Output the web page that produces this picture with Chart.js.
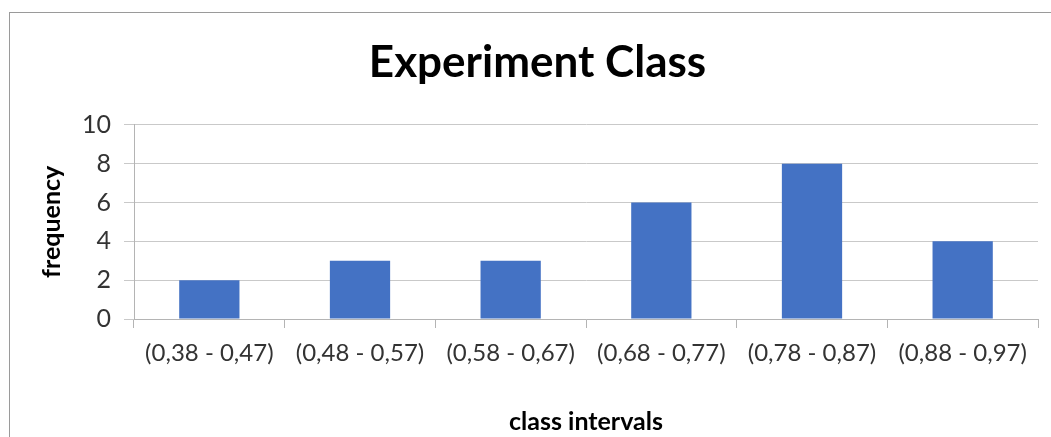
<!DOCTYPE html>
<html>
<head>
<meta charset="utf-8">
<script src="https://cdn.jsdelivr.net/npm/chart.js@4/dist/chart.umd.min.js"></script>
<style>
  html, body { margin: 0; padding: 0; background: #ffffff; }
  #wrap { width: 1051px; height: 437px; position: relative; }
</style>
</head>
<body>
<div id="wrap"><canvas id="chart" width="1051" height="437"></canvas></div>
<script>
// Class intervals and how many results fall in each
const categories = ['(0,38 - 0,47)', '(0,48 - 0,57)', '(0,58 - 0,67)', '(0,68 - 0,77)', '(0,78 - 0,87)', '(0,88 - 0,97)'];
const frequencies = [2, 3, 3, 6, 8, 4];
const yTicks = [0, 2, 4, 6, 8, 10];

const FONT = 'Lato, "Open Sans", sans-serif';
const GRID = '#c9c9c9';
const AXIS = '#b4b4b4';

// Thin grey frame around the whole chart object
const framePlugin = {
  id: 'frame',
  beforeDraw(chart) {
    const ctx = chart.ctx;
    ctx.save();
    ctx.fillStyle = '#ffffff';
    ctx.fillRect(0, 0, chart.width, chart.height);
    ctx.strokeStyle = '#9a9a9a';
    ctx.lineWidth = 1;
    ctx.strokeRect(9.5, 12.5, chart.width + 20, chart.height + 20);
    ctx.restore();
  }
};

new Chart(document.getElementById('chart'), {
  type: 'bar',
  data: {
    labels: categories,
    datasets: [{
      label: 'frequency',
      data: frequencies,
      backgroundColor: '#4472c4',
      borderWidth: 0,
      categoryPercentage: 1.0,
      barPercentage: 0.4
    }]
  },
  options: {
    responsive: false,
    animation: false,
    layout: { padding: { left: 37, right: 13, top: 12, bottom: 0 } },
    plugins: {
      legend: { display: false },
      tooltip: { enabled: false },
      title: {
        display: true,
        text: 'Experiment Class',
        color: '#000000',
        font: { family: FONT, size: 44, weight: 'bold' },
        padding: { top: 24, bottom: 36 }
      }
    },
    scales: {
      x: {
        grid: {
          display: true,
          drawOnChartArea: false,
          drawTicks: true,
          tickLength: 9,
          color: AXIS,
          offset: true
        },
        border: { display: true, color: AXIS },
        ticks: {
          color: '#333333',
          font: { family: FONT, size: 24 },
          maxRotation: 0,
          autoSkip: false,
          padding: 11
        },
        title: {
          display: true,
          text: 'class intervals',
          color: '#000000',
          font: { family: FONT, size: 25, weight: 'bold' },
          padding: { top: 0, bottom: 0 }
        },
        afterFit(scale) { scale.height = 118; }
      },
      y: {
        min: 0,
        max: 10,
        afterBuildTicks(scale) { scale.ticks = yTicks.map(v => ({ value: v })); },
        grid: {
          color: GRID,
          drawTicks: true,
          tickLength: 10
        },
        border: { display: true, color: AXIS },
        ticks: {
          color: '#333333',
          font: { family: FONT, size: 25 },
          padding: 13
        },
        title: {
          display: true,
          text: 'frequency',
          color: '#000000',
          font: { family: FONT, size: 25, weight: 'bold' },
          padding: { top: 0, bottom: 0 }
        },
        afterFit(scale) { scale.width = 97; }
      }
    }
  },
  plugins: [framePlugin]
});
</script>
</body>
</html>
